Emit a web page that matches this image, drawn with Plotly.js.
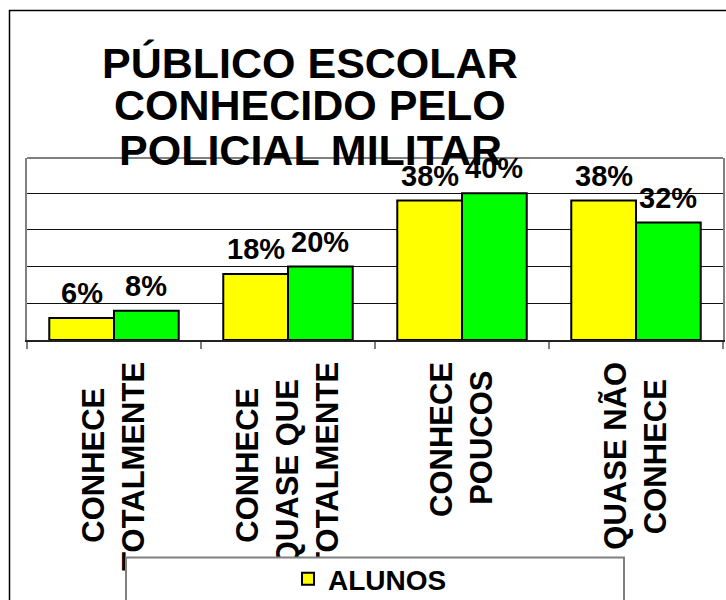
<!DOCTYPE html>
<html>
<head>
<meta charset="utf-8">
<script src="https://cdn.plot.ly/plotly-3.0.1.min.js"></script>
<style>
  html, body { margin: 0; padding: 0; background: #fff; }
  #chart { width: 726px; height: 600px; }
</style>
</head>
<body>
<div id="chart"></div>
<script>
const NB = '\u00A0';
const categories = [
  'CONHECE' + NB.repeat(3) + '<br>TOTALMENTE',
  'CONHECE' + NB.repeat(3) + '<br>QUASE QUE' + NB.repeat(2) + '<br>TOTALMENTE',
  'CONHECE<br>POUCOS' + NB,
  'QUASE NÃO<br>CONHECE' + NB.repeat(2)
];
const alunos = [6, 18, 38, 38];
const segundaSerie = [8, 20, 40, 32];
const seriesNames = ['ALUNOS', 'PROFESSORES'];
const titleLines = ['PÚBLICO ESCOLAR', 'CONHECIDO PELO', 'POLICIAL MILITAR'];

const FONT = 'Liberation Sans, Arial, sans-serif';
const BARGAP = 0.256;

const traces = [
  {
    type: 'bar', name: seriesNames[0], x: categories, y: alunos,
    marker: { color: '#FFFF00', line: { color: '#000', width: 2 } },
    hoverinfo: 'none'
  },
  {
    type: 'bar', name: seriesNames[1], x: categories, y: segundaSerie, showlegend: false,
    marker: { color: '#00FF00', line: { color: '#000', width: 2 } },
    hoverinfo: 'none'
  }
];

const W = 726, H = 600;
const L = 27, R = 3, T = 158, B = 260;
const pw = W - L - R, ph = H - T - B;
const px = v => (v - L) / pw;
const py = v => (H - B - v) / ph;

const titleY = [62.5, 105.5, 149.5];
const annotations = titleLines.map((t, i) => ({
  text: t, xref: 'paper', yref: 'paper', x: px(310), y: py(titleY[i]),
  xanchor: 'center', yanchor: 'middle', showarrow: false,
  font: { family: FONT, size: 43, weight: 'bold', color: '#000' }
}));

// value labels above each bar (bar centre = category index +/- half a bar width)
const half = (1 - BARGAP) / 4;
[alunos, segundaSerie].forEach((vals, s) => {
  vals.forEach((v, i) => {
    annotations.push({
      text: v + '%', xref: 'x', yref: 'y', x: i + (s === 0 ? -half : half), y: v,
      xanchor: 'center', yanchor: 'bottom', yshift: 7, showarrow: false,
      font: { family: FONT, size: 29, weight: 'bold', color: '#000' }
    });
  });
});

const layout = {
  width: W, height: H,
  margin: { l: L, r: R, t: T, b: B, autoexpand: false },
  paper_bgcolor: '#fff', plot_bgcolor: '#fff',
  barmode: 'group', bargap: BARGAP, bargroupgap: 0,
  showlegend: true,
  legend: {
    x: px(288), xanchor: 'left', y: py(554), yanchor: 'top',
    bgcolor: 'rgba(0,0,0,0)', borderwidth: 0,
    font: { family: FONT, size: 28, weight: 'bold', color: '#000' }
  },
  xaxis: {
    type: 'category', tickson: 'boundaries', ticks: 'outside', ticklen: 7,
    tickcolor: '#808080', tickwidth: 1.5, tickangle: -90,
    ticklabelstandoff: 8,
    tickfont: { family: FONT, size: 31, weight: 'bold', color: '#000' },
    showline: true, linecolor: '#222', linewidth: 1.5, mirror: false,
    showgrid: false, zeroline: false, automargin: false
  },
  yaxis: {
    range: [0, 49.6], dtick: 10, showticklabels: false, ticks: '',
    showgrid: true, gridcolor: '#111', gridwidth: 1,
    showline: true, linecolor: '#808080', linewidth: 2, mirror: true,
    zeroline: false, automargin: false
  },
  shapes: [
    { type: 'line', xref: 'paper', yref: 'paper', x0: 0, x1: 1, y0: 1, y1: 1,
      line: { color: '#808080', width: 2 }, layer: 'above' },
    { type: 'rect', xref: 'paper', yref: 'paper',
      x0: px(126), x1: px(624), y0: py(557.5), y1: py(640),
      fillcolor: '#fff', line: { color: '#808080', width: 2 }, layer: 'above' },
    { type: 'rect', xref: 'paper', yref: 'paper',
      x0: px(9.5), x1: px(760), y0: py(10.5), y1: py(640),
      fillcolor: 'rgba(0,0,0,0)', line: { color: '#000', width: 1.5 }, layer: 'above' }
  ],
  annotations: annotations
};

Plotly.newPlot('chart', traces, layout, { staticPlot: true, displayModeBar: false });
</script>
</body>
</html>
